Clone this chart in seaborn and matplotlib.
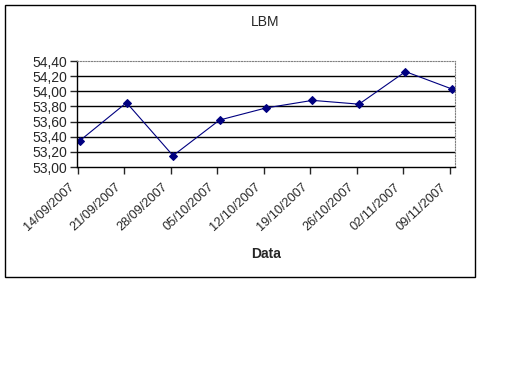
import pandas as pd
import matplotlib
matplotlib.use('Agg')
import matplotlib.pyplot as plt
from matplotlib.patches import Rectangle
from matplotlib.ticker import FuncFormatter
from matplotlib.transforms import ScaledTranslation
import seaborn as sns

# data
dates = ['14/09/2007', '21/09/2007', '28/09/2007', '05/10/2007', '12/10/2007',
         '19/10/2007', '26/10/2007', '02/11/2007', '09/11/2007']
lbm = [53.35, 53.85, 53.15, 53.62, 53.78, 53.88, 53.83, 54.26, 54.03]
y_ticks = [53.0, 53.2, 53.4, 53.6, 53.8, 54.0, 54.2, 54.4]

df = pd.DataFrame({'Data': pd.to_datetime(dates, format='%d/%m/%Y'), 'LBM': lbm})

sns.set_style('white')
plt.rcParams['font.family'] = ['Liberation Sans', 'DejaVu Sans']

fig = plt.figure(figsize=(5.12, 3.84), dpi=100)
ax = fig.add_axes([77 / 512, 1 - 167 / 384, 378 / 512, 106 / 384])

# outer chart frame
fig.patches.append(Rectangle((5 / 512, 1 - 277 / 384), 470 / 512, 272 / 384,
                             transform=fig.transFigure, fill=False,
                             edgecolor='black', linewidth=1))

for y in y_ticks[1:-1]:
    ax.axhline(y, color='black', linewidth=1, zorder=0)

sns.lineplot(data=df, x='Data', y='LBM', ax=ax, color='#000080', linewidth=0.8,
             marker='D', markersize=4.5, markeredgecolor='#000080')

pad = pd.Timedelta(hours=11)
ax.set_xlim(df['Data'].iloc[0] - pad, df['Data'].iloc[-1] + pad)
ax.set_ylim(53.0, 54.4)
ax.set_yticks(y_ticks)
ax.yaxis.set_major_formatter(FuncFormatter(lambda v, p: f'{v:.2f}'.replace('.', ',')))
ax.set_xticks(df['Data'] - pd.Timedelta(hours=8))
ax.tick_params(axis='y', labelsize=10, length=5, width=1, direction='out', left=True, pad=2)
ax.tick_params(axis='x', length=5, width=1, direction='out', bottom=True, pad=3)
ax.set_xticklabels(dates, rotation=43, ha='right', rotation_mode='anchor', fontsize=9.2)

# excel puts the date labels a bit left of their ticks
shift = ScaledTranslation(-9 / 100, -3 / 100, fig.dpi_scale_trans)
for lbl in ax.get_xticklabels():
    lbl.set_transform(lbl.get_transform() + shift)

for s in ['left', 'bottom']:
    ax.spines[s].set_color('black')
    ax.spines[s].set_linewidth(1)
for s in ['top', 'right']:
    ax.spines[s].set_color('#808080')
    ax.spines[s].set_linestyle((0, (1, 1.5)))
    ax.spines[s].set_linewidth(0.8)

ax.set_ylabel('')
ax.set_xlabel('Data', fontsize=10, fontweight='bold', labelpad=10)
fig.text(265 / 512, 1 - 22 / 384, 'LBM', ha='center', va='center', fontsize=10)

fig.savefig('out.png', dpi=100)
